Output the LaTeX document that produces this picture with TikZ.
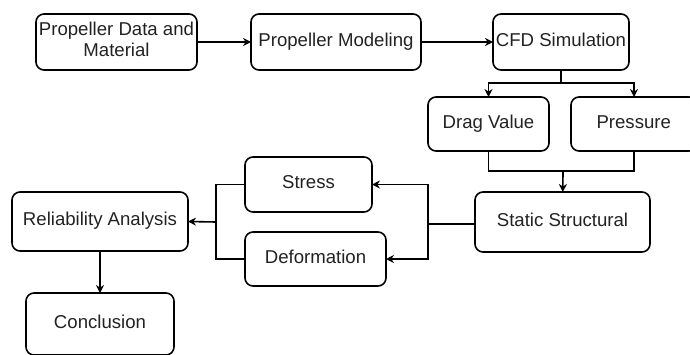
\documentclass[tikz,border=0pt]{standalone}
\usepackage{fontspec}
\setmainfont{Liberation Sans}
\usetikzlibrary{positioning,arrows.meta}
\definecolor{txtgray}{HTML}{222222}

\begin{document}
\begin{tikzpicture}[
    x=1pt, y=-1pt,
 mybox/.style = {
        draw, rectangle, align=center, rounded corners=8pt,
        line width=1.6pt, text=txtgray,
        font=\fontsize{18.6}{21}\selectfont, inner sep=1pt, outer sep=0pt,
        execute at begin node=\strut},
 line/.style = {line width=1.6pt},
     arrow/.style = {line width=1.6pt,-{Stealth[length=8pt,width=8pt]}}
                    ]
\clip (0,0) rectangle (690,354);
% the row at the top
\node (n1) [mybox, minimum width=161pt, minimum height=56pt] at (116.5,42)
        {Propeller Data and\\Material};
\node (n2) [mybox, minimum width=170pt, minimum height=56pt] at (336,42)
        {Propeller Modeling};
\node (n3) [mybox, minimum width=136pt, minimum height=56pt] at (561,42)
        {CFD Simulation};
% the results of the simulation
\node (n4a) [mybox, minimum width=121pt, minimum height=54pt] at (488.5,124)
        {Drag Value};
\node (n4b) [mybox, minimum width=126pt, minimum height=54pt, text width=115pt, align=left] at (634,124)
        {\hspace*{20pt}Pressure};
\node (n5) [mybox, minimum width=175pt, minimum height=60pt] at (562.5,222)
        {Static Structural};
% the branches to the left
\node (n6a) [mybox, minimum width=127pt, minimum height=55pt] at (308.5,184.5)
        {Stress};
\node (n6b) [mybox, minimum width=141pt, minimum height=54pt] at (315.5,259)
        {Deformation};
\node (n7) [mybox, minimum width=176pt, minimum height=59pt] at (100,221.5)
        {Reliability Analysis};
\node (n8) [mybox, minimum width=148pt, minimum height=62pt] at (100,324)
        {Conclusion};
% junction points
\coordinate (j1) at (563,171);
\coordinate (j2) at (428,224);
\coordinate (j3) at (216,222);
% the lines
\draw[arrow] (n1) -- (n2);
\draw[arrow] (n2) -- (n3);
\draw[arrow] (n3.south) -- ++(0,13) -| (n4a.north);
\draw[arrow] (n3.south) -- ++(0,13) -| (n4b.north);
\draw[line] (n4a.south) |- (j1) -| (n4b.south);
\draw[arrow] (j1) -- (n5);
\draw[line] (n5.west |- j2) -- (j2);
\draw[arrow] (j2) |- (n6a.east);
\draw[arrow] (j2) |- (n6b.east);
\draw[line] (n6a.west) -| (j3) |- (n6b.west);
\draw[arrow] (j3) -- (n7.east);
\draw[arrow] (n7) -- (n8);
\end{tikzpicture}
\end{document}
